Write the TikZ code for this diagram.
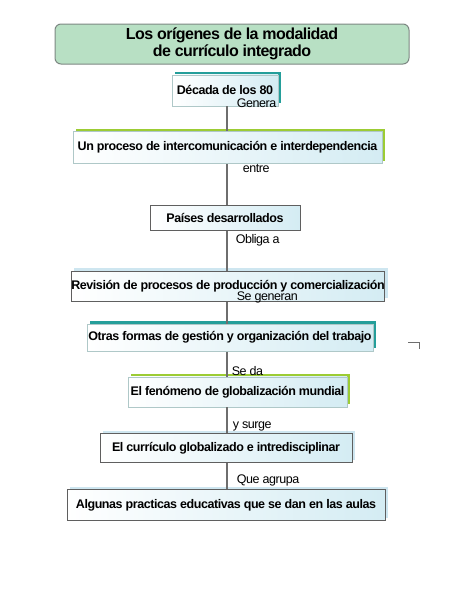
\documentclass[tikz,border=0pt]{standalone}
\usepackage{fontspec}
\setmainfont{Liberation Sans}
\newfontfamily\tightfont{Liberation Sans}[LetterSpace=-3.5]
\usetikzlibrary{positioning,shadows}
\definecolor{titlegreen}{RGB}{184,224,196}
\definecolor{titleedge}{RGB}{125,135,130}
\definecolor{shteal}{RGB}{36,158,154}
\definecolor{shlime}{RGB}{156,204,52}
\definecolor{shsky}{RGB}{206,230,240}
\definecolor{boxsky}{RGB}{212,236,243}
\definecolor{paleedge}{RGB}{175,200,200}
\definecolor{darkedge}{RGB}{95,95,95}
\definecolor{linkgray}{RGB}{110,110,110}
\begin{document}
\begin{tikzpicture}[x=1pt, y=-1pt,
  box/.style={rectangle, draw=darkedge, line width=0.8pt, left color=white, right color=boxsky, inner xsep=0pt, inner ysep=1pt, font=\tightfont\fontsize{12.5}{14}\selectfont\bfseries},
  tealbox/.style={box, draw=paleedge, copy shadow={fill=shteal, draw=none, shadow xshift=3pt, shadow yshift=3pt}},
  limebox/.style={box, draw=paleedge, copy shadow={fill=shlime, draw=none, shadow xshift=3pt, shadow yshift=3pt}},
  skybox/.style={box, copy shadow={fill=shsky, draw=none, shadow xshift=3pt, shadow yshift=3pt}},
  link/.style={draw=linkgray, line width=1.5pt},
  lbl/.style={anchor=west, inner sep=0pt, font=\tightfont\fontsize{12.5}{14}\selectfont}]
\useasboundingbox (0,0) rectangle (450,600);
\node (title) [draw=titleedge, line width=1pt, fill=titlegreen, rounded corners=6pt, minimum width=354pt, minimum height=40pt, align=center, font=\tightfont\fontsize{16}{17}\selectfont\bfseries] at (232,44) {Los orígenes de la modalidad\\de currículo integrado};
\node (dec) [tealbox, minimum width=106pt, minimum height=31pt, below=10pt of title, xshift=-7pt] {Década de los 80};
\node (proc) [limebox, minimum width=309pt, minimum height=32pt, below=25pt of dec, xshift=2.5pt] {Un proceso de intercomunicación e interdependencia};
\node (pais) [box, minimum width=150pt, minimum height=25pt, below=41pt of proc, xshift=-2.5pt] {Países desarrollados};
\node (rev) [skybox, minimum width=310pt, minimum height=30pt, below=40pt of pais, xshift=3pt] {Revisión de procesos de producción y comercialización};
\node (otras) [tealbox, minimum width=286pt, minimum height=27pt, below=22pt of rev, xshift=2pt] {Otras formas de gestión y organización del trabajo};
\node (fen) [limebox, minimum width=219pt, minimum height=30pt, below=25pt of otras, xshift=7.5pt] {El fenómeno de globalización mundial};
\node (curr) [skybox, minimum width=252pt, minimum height=29pt, below=26pt of fen, xshift=-11.5pt] {El currículo globalizado e intredisciplinar};
\node (alg) [skybox, minimum width=318pt, minimum height=31pt, below=26pt of curr] {Algunas practicas educativas que se dan en las aulas};
% vertical spine
\coordinate (spine) at (227,0);
\draw[link] (dec.south -| spine) -- (proc.north -| spine) node[lbl, at start, xshift=9pt, yshift=3pt] {Genera};
\draw[link] (proc.south -| spine) -- (pais.north -| spine) node[lbl, at start, xshift=15pt, yshift=-4pt] {entre};
\draw[link] (pais.south -| spine) -- (rev.north -| spine) node[lbl, at start, xshift=8pt, yshift=-9pt] {Obliga a};
\draw[link] (rev.south -| spine) -- (otras.north -| spine) node[lbl, at start, xshift=9pt, yshift=4pt] {Se generan};
\draw[link] (otras.south -| spine) -- (fen.north -| spine) node[lbl, at start, xshift=4pt, yshift=-20pt] {Se da};
\draw[link] (fen.south -| spine) -- (curr.north -| spine) node[lbl, at start, xshift=5pt, yshift=-19pt] {y surge};
\draw[link] (curr.south -| spine) -- (alg.north -| spine) node[lbl, at start, xshift=9pt, yshift=-17pt] {Que agrupa};
% stray mark
\draw[linkgray, line width=0.8pt] (408,342) -- (419,342) -- (419,349);
\end{tikzpicture}
\end{document}
